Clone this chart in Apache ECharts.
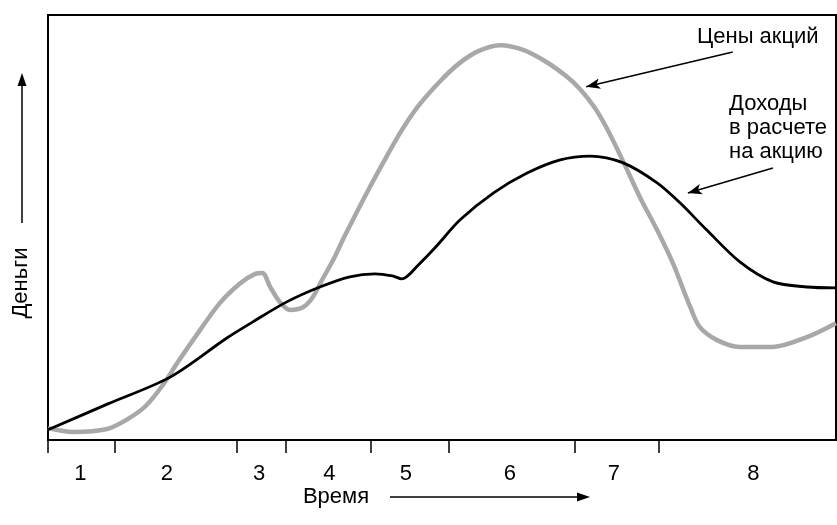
<!DOCTYPE html>
<html>
<head>
<meta charset="utf-8">
<script src="https://cdn.jsdelivr.net/npm/echarts@6/dist/echarts.min.js"></script>
<style>
html,body{margin:0;padding:0;background:#fff;}
#c{width:837px;height:525px;}
</style>
</head>
<body>
<div id="c"></div>
<script>
// Time axis 0..100, money axis 0..100 (arbitrary units, as in the schematic)
const tickLabels = ['1','2','3','4','5','6','7','8'];
const tickLabelPos = [4.1, 15.1, 26.8, 35.7, 45.4, 58.6, 71.8, 89.5];
const tickMarkPos = [0, 8.5, 24.0, 30.2, 40.9, 50.9, 66.8, 77.5];

const earnings = [
  [0,2.4],[7.6,8.5],[15.5,14.8],[22.7,24.0],[26.0,27.8],[30.3,32.5],[34.5,36.0],
  [38.3,38.4],[41.5,39.1],[43.7,38.6],[44.9,37.9],[47.0,41.2],[49.2,45.4],[52.3,51.8],
  [56.5,58.1],[60.8,62.8],[65.0,65.9],[68.8,66.8],[73.0,65.2],[77.3,60.5],[80.2,55.8],
  [83.6,49.4],[87.8,41.9],[92.0,37.2],[96.3,36.0],[100,35.8]
];
const prices = [
  [0,2.8],[3.2,1.9],[7.5,2.6],[10.0,4.8],[12.4,8.0],[14.6,13.0],[16.4,18.1],[18.4,23.5],
  [21.8,32.2],[24.4,36.9],[26.3,39.1],[27.2,39.3],[28.2,36.0],[29.4,32.5],[30.7,30.6],
  [32.4,31.3],[33.6,33.6],[34.7,37.4],[36.2,42.4],[37.6,47.8],[40.5,58.3],[43.0,66.8],
  [44.9,72.9],[47.0,78.6],[49.7,84.3],[52.1,88.5],[54.6,91.5],[57.4,92.9],[60.3,91.8],
  [63.2,89.0],[65.9,85.4],[67.5,82.6],[69.3,78.4],[70.9,73.4],[73.0,65.5],[75.1,57.2],
  [77.3,49.4],[79.3,41.6],[81.5,31.3],[82.7,26.6],[84.9,23.5],[87.8,21.9],[92.0,21.9],
  [96.3,24.2],[100,27.5]
];
const priceArrow = [[86.9,91.3],[68.3,83.1]];
const earnArrow = [[92.0,64.0],[81.2,58.1]];

const FONT = '"Liberation Sans", Arial, sans-serif';
const FS = 22;
const chart = echarts.init(document.getElementById('c'), null, {renderer:'canvas'});

function arrowGraphic(x1,y1,x2,y2){
  const ang = Math.atan2(y2-y1,x2-x1);
  const L=13, W=4.5;
  const bx = x2 - L*Math.cos(ang), by = y2 - L*Math.sin(ang);
  const px = -Math.sin(ang)*W, py = Math.cos(ang)*W;
  return [
    {type:'line', shape:{x1:x1,y1:y1,x2:bx,y2:by}, style:{stroke:'#000',lineWidth:1.5}},
    {type:'polygon', shape:{points:[[x2,y2],[bx+px,by+py],[bx-px,by-py]]}, style:{fill:'#000'}}
  ];
}

chart.setOption({
  animation:false,
  backgroundColor:'#fff',
  grid:{left:48, right:1, top:15, bottom:85, show:true, borderColor:'#000', borderWidth:2, backgroundColor:'transparent'},
  xAxis:{
    type:'value', min:0, max:100,
    axisLine:{show:true, onZero:false, lineStyle:{color:'#000', width:2}},
    axisTick:{show:true, customValues:tickMarkPos, length:13, lineStyle:{color:'#000', width:1.5}},
    axisLabel:{show:true, customValues:tickLabelPos, margin:23, color:'#000', fontSize:FS, fontFamily:FONT,
      formatter:function(v){ const i = tickLabelPos.indexOf(v); return i>=0 ? tickLabels[i] : ''; }},
    splitLine:{show:false}
  },
  yAxis:{
    type:'value', min:0, max:100,
    axisLine:{show:true, lineStyle:{color:'#000', width:2}},
    axisTick:{show:false}, axisLabel:{show:false}, splitLine:{show:false}
  },
  series:[
    {
      name:'Цены акций', type:'line', data:prices, smooth:0.3, showSymbol:false, z:2,
      lineStyle:{color:'#a8a8a8', width:4.5},
      markLine:{silent:true, symbol:['none','arrow'], symbolSize:[8,14], label:{show:false},
        lineStyle:{color:'#000', width:1.5, type:'solid'},
        data:[[{coord:priceArrow[0]},{coord:priceArrow[1]}]]}
    },
    {
      name:'Доходы в расчете на акцию', type:'line', data:earnings, smooth:0.3, showSymbol:false, z:3,
      lineStyle:{color:'#000', width:2.8},
      markLine:{silent:true, symbol:['none','arrow'], symbolSize:[8,14], label:{show:false},
        lineStyle:{color:'#000', width:1.5, type:'solid'},
        data:[[{coord:earnArrow[0]},{coord:earnArrow[1]}]]}
    }
  ],
  graphic:[
    {type:'text', left:697, top:25, style:{text:'Цены акций', font:FS+'px '+FONT, fill:'#000', lineHeight:24}},
    {type:'text', left:729, top:92, style:{text:'Доходы\nв расчете\nна акцию', font:FS+'px '+FONT, fill:'#000', lineHeight:24}},
    {type:'text', x:21, y:283, rotation:Math.PI/2, style:{text:'Деньги', font:FS+'px '+FONT, fill:'#000', align:'center', verticalAlign:'middle'}},
    {type:'text', x:336, y:497, style:{text:'Время', font:FS+'px '+FONT, fill:'#000', align:'center', verticalAlign:'middle'}},
    ...arrowGraphic(22,223,22,73),
    ...arrowGraphic(390,497,590,497)
  ]
});
</script>
</body>
</html>
